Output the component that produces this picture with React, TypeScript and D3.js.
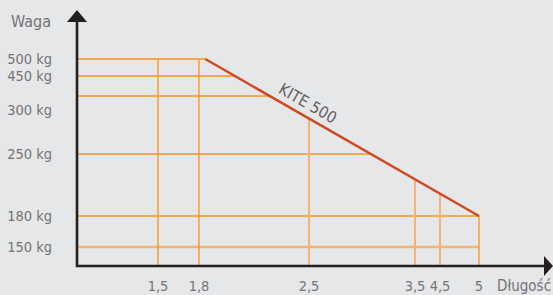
import * as d3 from 'd3';

// tick values along each axis (schematic, not linear)
const lengthTicks = [1.5, 1.8, 2.5, 3.5, 4.5, 5];
const lengthLabels = ['1,5', '1,8', '2,5', '3,5', '4,5', '5'];
const weightTicks = [500, 450, 300, 250, 180, 150];
const weightLabels = ['500 kg', '450 kg', '300 kg', '250 kg', '180 kg', '150 kg'];
// horizontal guide lines (one unlabeled guide sits between 300 and 450)
const weightGuides = [500, 450, 360, 250, 180, 150];
// KITE 500 limit line
const kiteLength = [1.84, 5];
const kiteWeight = [500, 180];
const kiteName = 'KITE 500';

const W = 553;
const H = 295;
const axisX = 77;
const axisY = 266;
const font = '"Liberation Sans Narrow", "DejaVu Sans Condensed", sans-serif';
const textColor = '#737477';

const x = d3
  .scaleLinear()
  .domain(lengthTicks)
  .range([158, 199, 309, 415, 440, 479]);

const y = d3
  .scaleLinear()
  .domain([150, 180, 250, 300, 360, 450, 500])
  .range([247, 216, 154, 110, 96, 76, 59]);

const App = () => {
  const kite = kiteLength.map((l, i) => ({ l, w: kiteWeight[i] }));
  const x0 = x(kite[0].l), y0 = y(kite[0].w);
  const x1 = x(kite[1].l), y1 = y(kite[1].w);

  // where the limit line crosses a given pixel row / column
  const xAtRow = (py: number) =>
    Math.max(x0, Math.min(x1, x0 + ((py - y0) / (y1 - y0)) * (x1 - x0)));
  const yAtCol = (px: number) =>
    Math.max(y0, Math.min(y1, y0 + ((px - x0) / (x1 - x0)) * (y1 - y0)));

  const line = d3
    .line<{ l: number; w: number }>()
    .x((d) => x(d.l))
    .y((d) => y(d.w));

  const angle = (Math.atan2(y1 - y0, x1 - x0) * 180) / Math.PI;
  const rad = (angle * Math.PI) / 180;
  const lx = 274;
  const ly = yAtCol(lx);
  const off = 7;
  const tx = lx + Math.sin(rad) * off;
  const ty = ly - Math.cos(rad) * off;

  const lightCols = new Set([2.5, 3.5, 4.5]);

  return (
    <svg
      width={W}
      height={H}
      style={{ position: 'absolute', left: 0, top: 0 }}
      fontFamily={font}
    >
      <rect width={W} height={H} fill="#e6e7e8" />

      {/* horizontal guides */}
      {weightGuides.map((w) => {
        const py = y(w);
        const light = w === 150;
        return (
          <line
            key={'h' + w}
            x1={axisX}
            x2={xAtRow(py)}
            y1={py}
            y2={py}
            stroke={light ? '#efb679' : '#f7941d'}
            strokeWidth={light ? 2.5 : 1.3}
          />
        );
      })}

      {/* vertical guides */}
      {lengthTicks.map((l) => {
        const px = x(l);
        const light = lightCols.has(l);
        return (
          <line
            key={'v' + l}
            x1={px}
            x2={px}
            y1={yAtCol(px)}
            y2={axisY}
            stroke={light ? '#f3b372' : '#f7941d'}
            strokeWidth={light ? 2 : 1.3}
          />
        );
      })}

      {/* limit line */}
      <path d={line(kite) || ''} fill="none" stroke="#cd4a22" strokeWidth={2.5} />
      <text
        x={tx}
        y={ty}
        transform={`rotate(${angle} ${tx} ${ty})`}
        fontSize={16}
        fill="#5f6063"
      >
        {kiteName}
      </text>

      {/* axes */}
      <line x1={axisX} x2={axisX} y1={axisY + 1} y2={20} stroke="#231f20" strokeWidth={2.6} />
      <polygon points={`${axisX},10 ${axisX - 10},22 ${axisX + 10},22`} fill="#231f20" />
      <line x1={axisX - 1} x2={545} y1={axisY} y2={axisY} stroke="#231f20" strokeWidth={2.6} />
      <polygon points={`553,${axisY} 544,${axisY - 10} 544,${axisY + 10}`} fill="#231f20" />

      {/* y tick labels */}
      {weightTicks.map((w, i) => (
        <text
          key={'yl' + w}
          x={52}
          y={y(w) + 5}
          textAnchor="end"
          fontSize={14.5}
          fill={textColor}
        >
          {weightLabels[i]}
        </text>
      ))}
      <text x={11} y={27} fontSize={16} fill={textColor}>
        Waga
      </text>

      {/* x tick labels */}
      {lengthTicks.map((l, i) => (
        <text
          key={'xl' + l}
          x={x(l)}
          y={291}
          textAnchor="middle"
          fontSize={14.5}
          fill={textColor}
        >
          {lengthLabels[i]}
        </text>
      ))}
      <text x={497} y={291} fontSize={15} fill={textColor}>
        Długość
      </text>
    </svg>
  );
};

export default App;
